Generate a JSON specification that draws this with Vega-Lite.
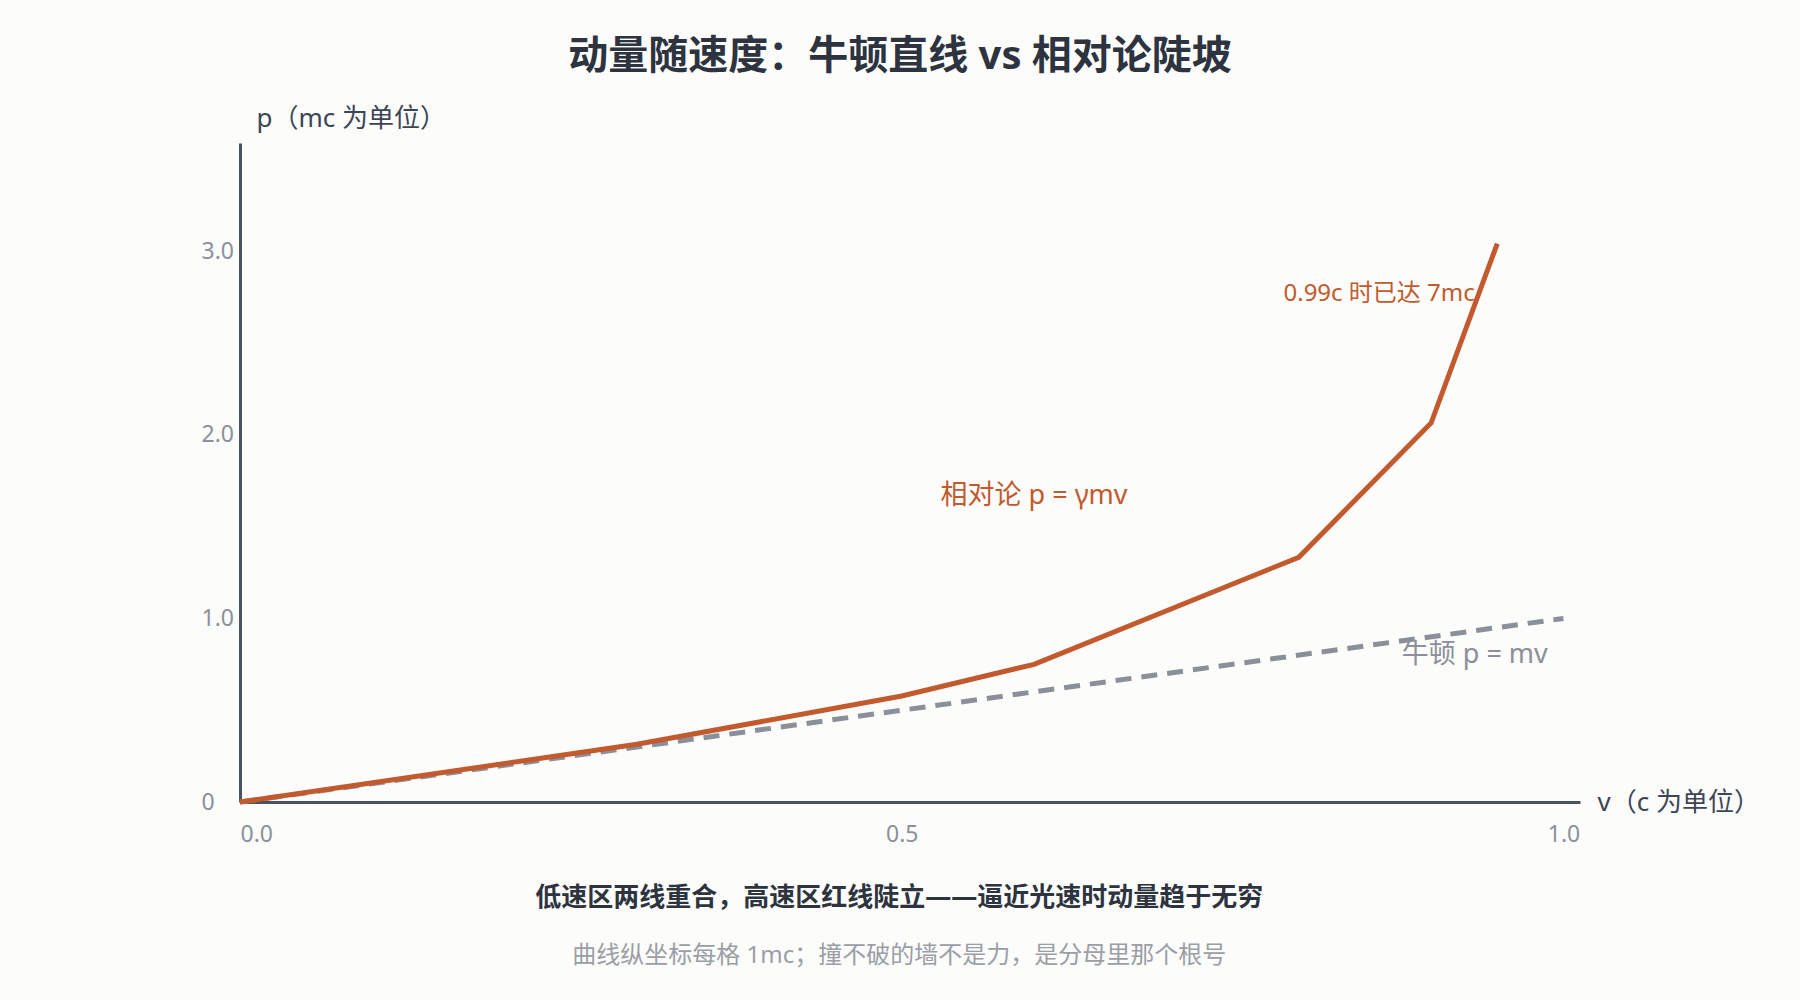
{
  "$schema": "https://vega.github.io/schema/vega-lite/v6.json",
  "background": "#fcfcfa",
  "padding": {"left": 201, "top": 37, "right": 120, "bottom": 120},
  "config": {
    "view": {"stroke": null},
    "font": "Noto Sans, Noto Sans CJK SC",
    "concat": {"spacing": 0}
  },
  "datasets": {
    "newton": [
      {"v": 0, "p": 0},
      {"v": 1, "p": 1}
    ],
    "relativity": [
      {"v": 0, "p": 0},
      {"v": 0.3, "p": 0.3145},
      {"v": 0.5, "p": 0.5774},
      {"v": 0.6, "p": 0.75},
      {"v": 0.8, "p": 1.3333},
      {"v": 0.9, "p": 2.0647},
      {"v": 0.95, "p": 3.0424}
    ]
  },
  "title": {
    "text": "低速区两线重合，高速区红线陡立——逼近光速时动量趋于无穷",
    "subtitle": "曲线纵坐标每格 1mc；撞不破的墙不是力，是分母里那个根号",
    "orient": "bottom",
    "anchor": "middle",
    "font": "Noto Sans, Noto Sans CJK SC",
    "fontSize": 26,
    "fontWeight": "bold",
    "color": "#2d3440",
    "subtitleFont": "Noto Sans, Noto Sans CJK SC",
    "subtitleFontSize": 24,
    "subtitleFontWeight": "normal",
    "subtitleColor": "#9a9ea6",
    "subtitlePadding": 33,
    "offset": 39,
    "dx": -81
  },
  "vconcat": [
    {
      "width": 1340,
      "height": 659,
      "title": {
        "text": "动量随速度：牛顿直线 vs 相对论陡坡",
        "anchor": "middle",
        "frame": "group",
        "font": "Noto Sans, Noto Sans CJK SC",
        "fontSize": 40,
        "fontWeight": "bold",
        "color": "#2d3440",
        "offset": 28,
        "dx": -10
      },
      "encoding": {
        "x": {
          "field": "v",
          "type": "quantitative",
          "scale": {"domain": [0, 1.0125], "nice": false},
          "axis": {
            "values": [0, 0.5, 1],
            "format": ".1f",
            "labelFlush": true,
            "ticks": false,
            "tickSize": 0,
            "grid": false,
            "domainColor": "#4a5363",
            "domainWidth": 3,
            "labelColor": "#8b909a",
            "labelFontSize": 23,
            "labelPadding": 21,
            "title": "v（c 为单位）",
            "titleX": 1357,
            "titleY": 0,
            "titleAlign": "left",
            "titleBaseline": "middle",
            "titleFontSize": 26,
            "titleFontWeight": "normal",
            "titleColor": "#3d4555"
          }
        },
        "y": {
          "field": "p",
          "type": "quantitative",
          "scale": {"domain": [0, 3.59], "nice": false},
          "axis": {
            "values": [0, 1, 2, 3],
            "labelExpr": "datum.value == 0 ? '0' : format(datum.value, '.1f')",
            "labelAlign": "left",
            "labelPadding": 39,
            "ticks": false,
            "tickSize": 0,
            "grid": false,
            "domainColor": "#4a5363",
            "domainWidth": 3,
            "labelColor": "#8b909a",
            "labelFontSize": 23,
            "title": "p（mc 为单位）",
            "titleAngle": 0,
            "titleX": 16,
            "titleY": -25,
            "titleAlign": "left",
            "titleBaseline": "middle",
            "titleFontSize": 26,
            "titleFontWeight": "normal",
            "titleColor": "#3d4555"
          }
        }
      },
      "layer": [
        {
          "data": {"name": "newton"},
          "mark": {"type": "line", "color": "#8b8f99", "strokeWidth": 5, "strokeDash": [16, 10]}
        },
        {
          "data": {"values": [{"v": 0.933, "p": 0.8, "label": "牛顿 p = mv"}]},
          "mark": {"type": "text", "align": "center", "baseline": "middle", "fontSize": 27, "color": "#8b8f99"},
          "encoding": {"text": {"field": "label"}}
        },
        {
          "data": {"values": [{"v": 0.6, "p": 1.667, "label": "相对论 p = γmv"}]},
          "mark": {"type": "text", "align": "center", "baseline": "middle", "fontSize": 27, "color": "#c25a2e"},
          "encoding": {"text": {"field": "label"}}
        },
        {
          "data": {"values": [{"v": 0.933, "p": 2.77, "label": "0.99c 时已达 7mc"}]},
          "mark": {"type": "text", "align": "right", "baseline": "middle", "fontSize": 24, "color": "#c25a2e"},
          "encoding": {"text": {"field": "label"}}
        },
        {
          "data": {"name": "relativity"},
          "mark": {"type": "line", "color": "#c25a2e", "strokeWidth": 5}
        }
      ]
    }
  ]
}
